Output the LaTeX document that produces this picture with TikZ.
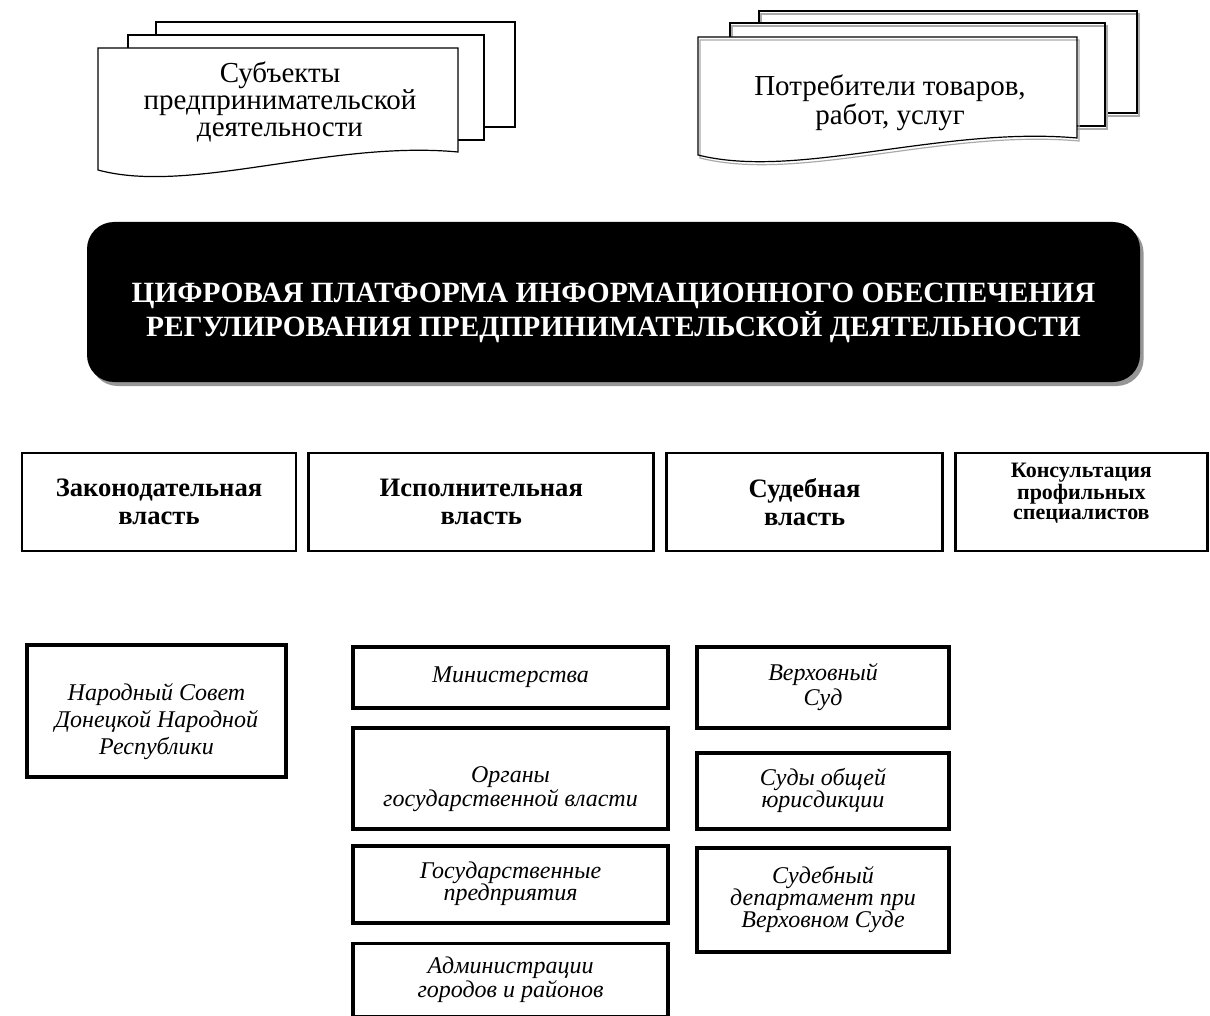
\documentclass[tikz,border=0pt]{standalone}
\usepackage{fontspec}
\setmainfont{Liberation Serif}
\usetikzlibrary{positioning,shadows}
\definecolor{shadeGrey}{RGB}{170,170,170}
\definecolor{dropGrey}{RGB}{150,150,150}
\tikzset{
  docsheet/.style={draw=black, fill=white, line width=0.6pt},
  shadedsheet/.style={fill=white, line width=0.6pt,
    postaction={draw=shadeGrey, transform canvas={shift={(1pt,-1.5pt)}}},
    postaction={draw=black}},
  doctext/.style={align=center, font=\fontsize{14.5}{13.5}\selectfont},
  platform/.style={
    rectangle, rounded corners=13.5pt, fill=black,
    minimum width=526.5pt, minimum height=80pt,
    drop shadow={shadow xshift=1.8pt, shadow yshift=-2pt, fill=dropGrey, opacity=1}},
  platformtext/.style={text=white, align=center,
    font=\fontsize{14.7}{15.5}\selectfont\bfseries},
  branchbox/.style={
    rectangle, draw, line width=1.4pt, align=center,
    minimum height=49pt, font=\fontsize{13.3}{14}\selectfont\bfseries},
  unitbox/.style={
    rectangle, draw, line width=1.9pt, align=center,
    font=\fontsize{12}{11}\selectfont\itshape},
  unittext/.style={align=center, font=\fontsize{12}{11}\selectfont\itshape}
}
\begin{document}
\begin{tikzpicture}[x=0.5pt, y=-0.5pt]
  \useasboundingbox (0,0) rectangle (1210,1016);

  % subjects of entrepreneurship (stack of sheets)
  \draw[docsheet] (156,22) rectangle (515,127);
  \draw[docsheet] (128,35) rectangle (484,140);
  \draw[docsheet] (98,48) -- (458,48) -- (458,152)
    .. controls (330,140) and (190,195) .. (98,170) -- cycle;
  \node[doctext] (subjects) at (280,102) {Субъекты\\предпринимательской\\деятельности};

  % consumers (stack of sheets)
  \path[shadedsheet] (759,11) rectangle (1137,113);
  \path[shadedsheet] (730,23) rectangle (1105,126);
  \path[shadedsheet] (698,37) -- (1077,37) -- (1077,138)
    .. controls (941,126) and (797,180) .. (698,155) -- cycle;
  \node[doctext, font=\fontsize{14.5}{14.5}\selectfont] (consumers) at (890,103) {Потребители товаров,\\работ, услуг};

  % platform
  \node[platform] (platform) at (613.5,302) {};
  \node[platformtext] (platformtext) at ([yshift=-5.5pt]platform.center) {ЦИФРОВАЯ ПЛАТФОРМА ИНФОРМАЦИОННОГО ОБЕСПЕЧЕНИЯ\\РЕГУЛИРОВАНИЯ ПРЕДПРИНИМАТЕЛЬСКОЙ ДЕЯТЕЛЬНОСТИ};

  % branches of power
  \node[branchbox, minimum width=137pt] (legis) at (159,502) {Законодательная\\власть};
  \node[branchbox, minimum width=172.5pt, right=5pt of legis] (exec) {Исполнительная\\власть};
  \node[branchbox, minimum width=138pt, right=5pt of exec] (judic) {Судебная\\власть};
  \node[branchbox, minimum width=126pt, right=5pt of judic] (consult) {};
  \node[below=2pt of consult.north, align=center, font=\fontsize{11}{10}\selectfont\bfseries] (consulttext) {Консультация\\профильных\\специалистов};

  % legislative bodies
  \node[unitbox, minimum width=129.5pt, minimum height=66pt] (council) at (156.5,711) {};
  \node[unittext, font=\fontsize{12}{13.5}\selectfont\itshape] (counciltext) at ([yshift=-5.5pt]council.center) {Народный Совет\\Донецкой Народной\\Республики};

  % executive bodies
  \node[unitbox, minimum width=157.5pt, minimum height=30.5pt] (ministries) at (510.5,677.5) {Министерства};
  \node[unitbox, minimum width=157.5pt, minimum height=50.5pt, below=8pt of ministries] (organs) {};
  \node[unittext] (organstext) at ([yshift=-5.5pt]organs.center) {Органы\\государственной власти};
  \node[unitbox, minimum width=157.5pt, minimum height=38.5pt, below=6.5pt of organs] (enterprises) {Государственные\\предприятия};
  \node[unitbox, minimum width=157.5pt, minimum height=36.5pt, below=8.5pt of enterprises] (admins) {Администрации\\городов и районов};

  % judicial bodies
  \node[unitbox, minimum width=126pt, minimum height=40.5pt, font=\fontsize{12}{12.5}\selectfont\itshape] (supreme) at (823,687.5) {Верховный\\Суд};
  \node[unitbox, minimum width=126pt, minimum height=38pt, below=10.5pt of supreme] (courts) {Суды общей\\юрисдикции};
  \node[unitbox, minimum width=126pt, minimum height=52pt, below=7.5pt of courts] (department) {Судебный\\департамент при\\Верховном Суде};
\end{tikzpicture}
\end{document}
